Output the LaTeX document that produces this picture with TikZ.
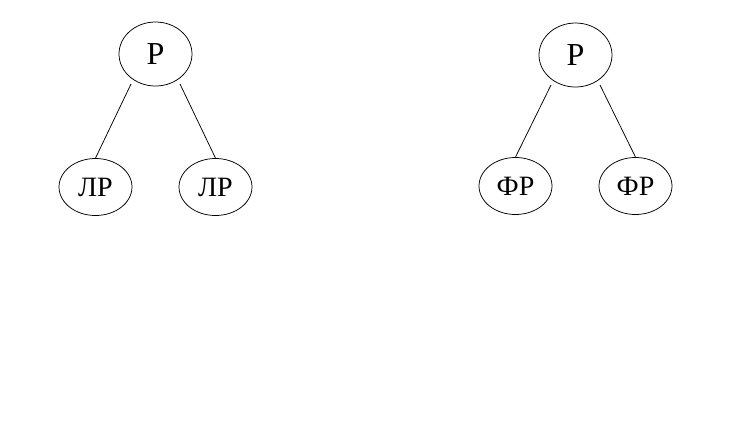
\documentclass[tikz,border=0pt]{standalone}
\usepackage{fontspec}
\setmainfont{Liberation Serif}
\newfontfamily\treefont{Liberation Serif}
\usetikzlibrary{shapes.geometric}
\begin{document}
\begin{tikzpicture}[x=1pt,y=-1pt,
  topnode/.style={draw,ellipse,line width=0.75pt,inner sep=0pt,minimum width=73pt,minimum height=64pt,font=\treefont\fontsize{32pt}{36pt}\selectfont},
  leafnode/.style={draw,ellipse,line width=0.75pt,inner sep=0pt,minimum width=73pt,minimum height=57pt,font=\treefont\fontsize{28pt}{32pt}\selectfont},
  edge/.style={line width=0.75pt}]
\useasboundingbox (0,0) rectangle (732,432);
\node[topnode] (p1) at (155.5,54) {Р};
\node[leafnode] (l1) at (95.5,187) {ЛР};
\node[leafnode] (l2) at (215.5,187) {ЛР};
\node[topnode] (p2) at (575.5,55) {Р};
\node[leafnode] (f1) at (515.5,186) {ФР};
\node[leafnode] (f2) at (635.5,186) {ФР};
\draw[edge] ([shift={(-24.5,30)}]p1.center) -- (l1.north);
\draw[edge] ([shift={(24.5,30)}]p1.center) -- (l2.north);
\draw[edge] ([shift={(-24.5,30)}]p2.center) -- (f1.north);
\draw[edge] ([shift={(24.5,30)}]p2.center) -- (f2.north);
\end{tikzpicture}
\end{document}
